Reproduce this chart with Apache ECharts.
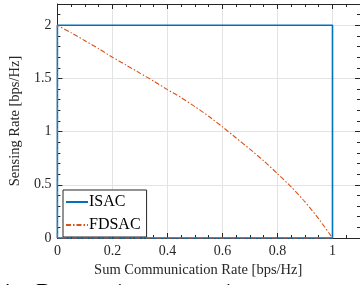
<!DOCTYPE html>
<html>
<head>
<meta charset="utf-8">
<script src="https://cdn.jsdelivr.net/npm/echarts@6/dist/echarts.min.js"></script>
<style>
  html, body { margin: 0; padding: 0; background: #fff; }
  #chart { width: 360px; height: 285px; }
</style>
</head>
<body>
<div id="chart"></div>
<script>
// ISAC: rectangular region, closed back to the origin
const isacX = [0, 0, 1, 1, 0];
const isacY = [0, 2, 2, 0, 0];

// FDSAC: concave boundary, closed back to the origin
const fdsacX = [0, 0, 0.05, 0.1, 0.15, 0.2, 0.25, 0.3, 0.35, 0.4, 0.45, 0.5,
	0.55, 0.6, 0.65, 0.7, 0.75, 0.8, 0.85, 0.9, 0.95, 1, 0];
const fdsacY = [0, 2, 1.93, 1.855, 1.78, 1.70, 1.625, 1.55, 1.475, 1.395, 1.32, 1.235,
	1.145, 1.045, 0.94, 0.835, 0.725, 0.605, 0.48, 0.34, 0.18, 0, 0];

const xTicks = [0, 0.2, 0.4, 0.6, 0.8, 1];
const yTicks = [0, 0.5, 1, 1.5, 2];

const serif = '"Liberation Serif", "DejaVu Serif", serif';
const axisColor = '#262626';

function pairs(xs, ys)
{
	return xs.map((x, i) => [x, ys[i]]);
}

function tickFmt(list)
{
	return v => list.some(t => Math.abs(t - v) < 1e-6) ? String(+v.toFixed(2)) : '';
}

function baseAxis(extra)
{
	return Object.assign({
		type: 'value',
		axisLine: { show: true, onZero: false, lineStyle: { color: axisColor, width: 1 } },
		axisTick: { show: true, inside: true, length: 5, lineStyle: { color: axisColor } },
		minorTick: { show: true, length: 3, lineStyle: { color: axisColor } },
		splitLine: { show: false },
		axisLabel: { show: false }
	}, extra);
}

const chart = echarts.init(document.getElementById('chart'));

chart.setOption({
	animation: false,
	backgroundColor: '#fff',
	grid: { left: 56, top: 4, right: -1, bottom: 47, containLabel: false },
	xAxis: [
		baseAxis({
			min: 0, max: 1.1, interval: 0.2, position: 'bottom',
			minorTick: { show: true, splitNumber: 4, length: 3, lineStyle: { color: axisColor } },
			splitLine: { show: true, lineStyle: { color: '#e3e3e3', width: 1 } },
			axisLabel: {
				show: true, margin: 6, color: axisColor, fontFamily: serif, fontSize: 14,
				showMaxLabel: false, formatter: tickFmt(xTicks)
			},
			name: 'Sum Communication Rate [bps/Hz]',
			nameLocation: 'middle',
			nameGap: 21,
			nameTextStyle: { color: axisColor, fontFamily: serif, fontSize: 14.5, padding: [0, 21, 0, 0] }
		}),
		baseAxis({
			min: 0, max: 1.1, interval: 0.2, position: 'top',
			minorTick: { show: true, splitNumber: 4, length: 3, lineStyle: { color: axisColor } }
		})
	],
	yAxis: [
		baseAxis({
			min: 0, max: 2.2, interval: 0.5, position: 'left',
			minorTick: { show: true, splitNumber: 5, length: 3, lineStyle: { color: axisColor } },
			splitLine: { show: true, lineStyle: { color: '#e3e3e3', width: 1 } },
			axisLabel: {
				show: true, margin: 6, color: axisColor, fontFamily: serif, fontSize: 14,
				showMaxLabel: false, formatter: tickFmt(yTicks)
			},
			name: 'Sensing Rate [bps/Hz]',
			nameLocation: 'middle',
			nameGap: 22,
			nameTextStyle: { color: axisColor, fontFamily: serif, fontSize: 14.5 }
		}),
		baseAxis({
			min: 0, max: 2.2, interval: 0.5, position: 'right',
			minorTick: { show: true, splitNumber: 5, length: 3, lineStyle: { color: axisColor } }
		})
	],
	legend: {
		orient: 'vertical',
		left: 63,
		top: 190,
		itemWidth: 22,
		itemHeight: 12,
		itemGap: 7,
		padding: [4, 6, 4, 2],
		backgroundColor: '#fff',
		borderColor: axisColor,
		borderWidth: 1,
		borderRadius: 0,
		itemStyle: { color: 'rgba(0,0,0,0)', borderColor: 'rgba(0,0,0,0)', borderWidth: 0 },
		textStyle: { color: '#000', fontFamily: serif, fontSize: 16, padding: [0, 0, 0, -4] },
		data: ['ISAC', 'FDSAC']
	},
	graphic: [
		{
			type: 'text',
			left: -1,
			top: 281,
			style: { text: '4:', font: '24px ' + serif, fill: '#000' }
		},
		{
			type: 'text',
			left: 36,
			top: 281,
			style: { text: 'Rate region comparison', font: '24px ' + serif, fill: '#000' }
		}
	],
	series: [
		{
			name: 'ISAC',
			type: 'line',
			data: pairs(isacX, isacY),
			showSymbol: false,
			symbol: 'none',
			clip: false,
			lineStyle: { color: '#0072BD', width: 1.6 },
			itemStyle: { color: '#0072BD' },
			z: 3
		},
		{
			name: 'FDSAC',
			type: 'line',
			data: pairs(fdsacX, fdsacY),
			showSymbol: false,
			symbol: 'none',
			smooth: 0.2,
			clip: false,
			lineStyle: { color: '#D95319', width: 1.1, type: [5, 2, 1.5, 2] },
			itemStyle: { color: '#D95319' },
			z: 4
		}
	]
});
</script>
</body>
</html>
